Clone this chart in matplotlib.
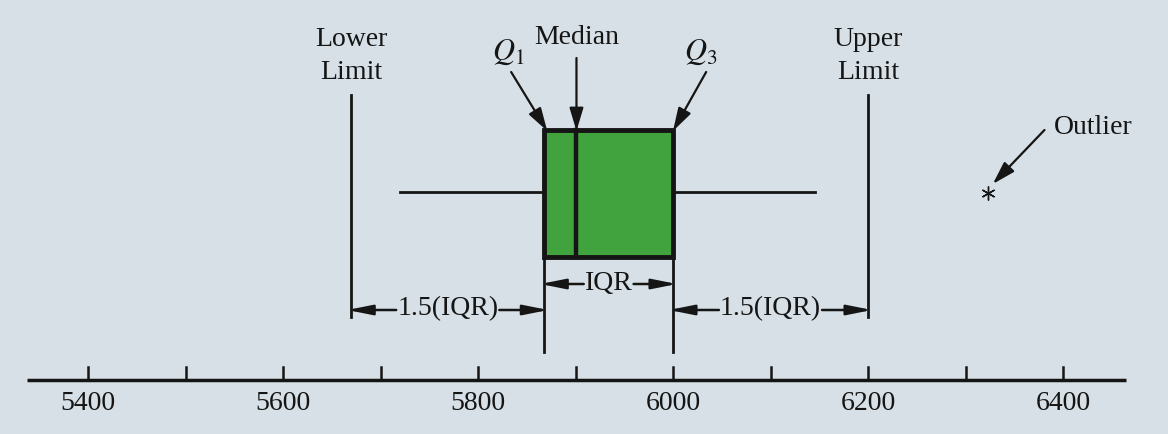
import matplotlib.pyplot as plt
from matplotlib.patches import Rectangle

plt.rcParams['font.family'] = 'Liberation Serif'
plt.rcParams['mathtext.fontset'] = 'stix'

# values
ticks = list(range(5400, 6500, 100))
tick_labels = [5400, 5600, 5800, 6000, 6200, 6400]
q1 = 5868
median = 5901
q3 = 6000
iqr = q3 - q1
lower_limit = q1 - 1.5 * iqr
upper_limit = q3 + 1.5 * iqr
whisker_lo = 5720
whisker_hi = 6146
outliers = [6323]

bg = '#d6e0e6'
green = '#40a33e'
ink = '#151515'
fs = 20

fig = plt.figure(figsize=(11.68, 4.34), dpi=100, facecolor=bg)
ax = fig.add_axes([0, 0, 1, 1])
ax.set_facecolor(bg)
# x in data units, y in pixels from the top
k = 0.975
ax.set_xlim(5400 - 88 / k, 5400 + 1080 / k)
ax.set_ylim(434, 0)
ax.axis('off')

# number line
ax.plot([5337, 6465], [380, 380], color=ink, lw=2.5, solid_capstyle='butt')
for t in ticks:
    ax.plot([t, t], [367, 380], color=ink, lw=1.8)
for t in tick_labels:
    ax.text(t, 403, str(t), ha='center', va='center', fontsize=fs, color=ink)

# whiskers
ax.plot([whisker_lo, q1], [192, 192], color=ink, lw=2)
ax.plot([q3, whisker_hi], [192, 192], color=ink, lw=2)

# box
ax.add_patch(Rectangle((q1, 130), iqr, 127, facecolor=green, edgecolor=ink,
                       lw=3.5, zorder=3))
ax.plot([median, median], [130, 257], color=ink, lw=3.2, zorder=4)

# guide lines
ax.plot([q1, q1], [257, 352], color=ink, lw=2)
ax.plot([q3, q3], [257, 352], color=ink, lw=2)
ax.plot([lower_limit, lower_limit], [95, 317], color=ink, lw=2)
ax.plot([upper_limit + 2, upper_limit + 2], [95, 317], color=ink, lw=2)

# outlier
ax.plot(outliers, [193] * len(outliers), linestyle='none', marker=(6, 2, 0),
        ms=10, mew=1.0, color=ink)

small_head = dict(arrowstyle='-|>,head_length=1.5,head_width=0.3',
                  mutation_scale=10, lw=1.8, color=ink, shrinkA=0, shrinkB=0)
big_head = dict(arrowstyle='-|>,head_length=1.4,head_width=0.42',
                mutation_scale=10, lw=1.6, color=ink, shrinkA=0, shrinkB=0)

fig.canvas.draw()
inv = ax.transData.inverted()
over = 4  # heads are backed off by the stroke, push tips onto the lines


def dimension(xa, xb, y, label, ty):
    t = ax.text((xa + xb) / 2, ty, label, ha='center', va='center',
                fontsize=fs, color=ink)
    bb = t.get_window_extent(fig.canvas.get_renderer())
    left = inv.transform((bb.x0 - 1, 0))[0]
    right = inv.transform((bb.x1 + 1, 0))[0]
    ax.annotate('', xy=(xa - over, y), xytext=(left, y), arrowprops=small_head)
    ax.annotate('', xy=(xb + over, y), xytext=(right, y), arrowprops=small_head)


dimension(lower_limit, q1, 310, '1.5(IQR)', 309)
dimension(q1, q3, 284, 'IQR', 283)
dimension(q3, upper_limit + 2, 310, '1.5(IQR)', 309)

# top labels
ax.text(lower_limit, 56, 'Lower\nLimit', ha='center', va='center',
        fontsize=fs, color=ink, linespacing=1.45)
ax.text(upper_limit + 2, 56, 'Upper\nLimit', ha='center', va='center',
        fontsize=fs, color=ink, linespacing=1.45)
ax.text(median, 38, 'Median', ha='center', va='center', fontsize=fs, color=ink)
ax.text(q1 - 37, 52, r'$Q_1$', ha='center', va='center', fontsize=22, color=ink)
ax.text(q3 + 28, 52, r'$Q_3$', ha='center', va='center', fontsize=22, color=ink)
ax.text(outliers[0] + 68, 128, 'Outlier', ha='left', va='center',
        fontsize=fs, color=ink)

ax.annotate('', xy=(q1 + 3, 131), xytext=(q1 - 34, 72), arrowprops=big_head)
ax.annotate('', xy=(median, 131), xytext=(median, 58), arrowprops=big_head)
ax.annotate('', xy=(q3 + 0, 131), xytext=(q3 + 34, 72), arrowprops=big_head)
ax.annotate('', xy=(outliers[0] + 5, 184), xytext=(outliers[0] + 58, 130),
            arrowprops=big_head)

fig.savefig('out.png', dpi=100, facecolor=bg)
